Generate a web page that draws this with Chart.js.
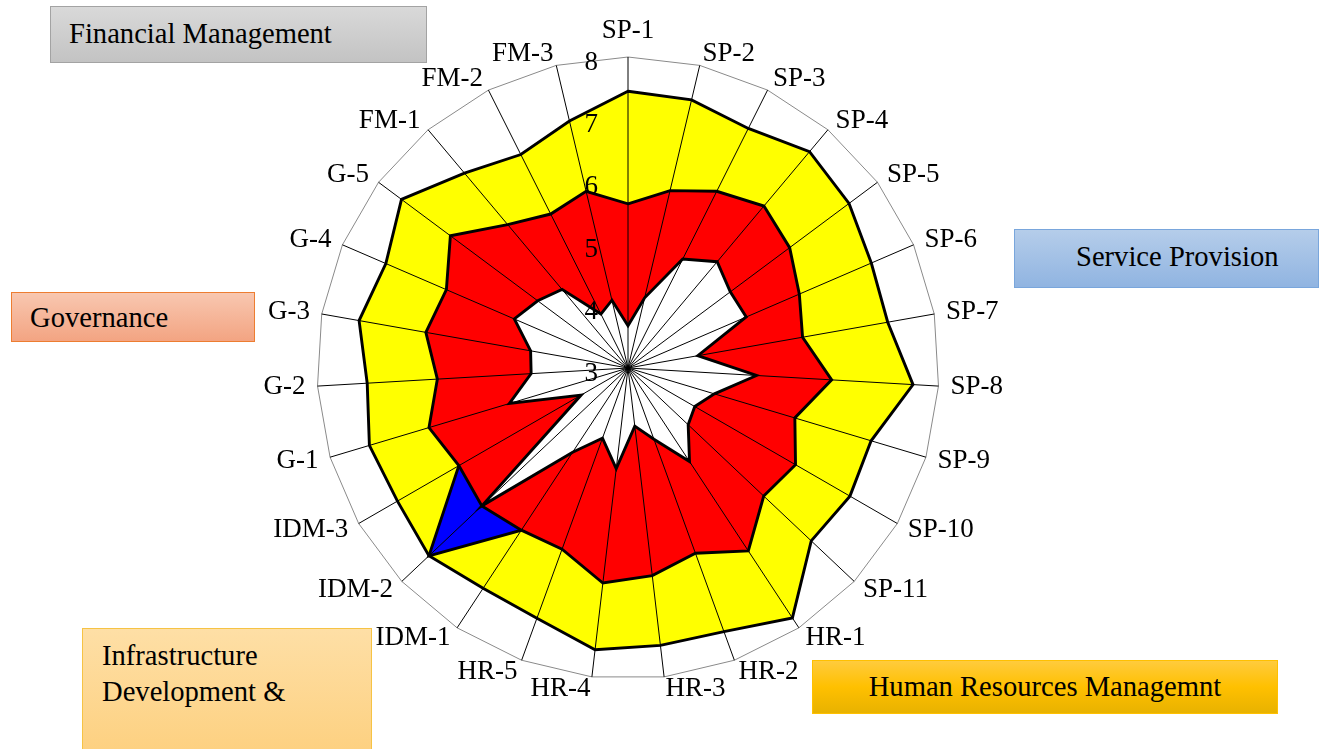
<!DOCTYPE html>
<html>
<head>
<meta charset="utf-8">
<script src="https://cdn.jsdelivr.net/npm/chart.js@4/dist/chart.umd.min.js"></script>
<style>
  html, body { margin: 0; padding: 0; background: #fff; }
  #wrap { position: relative; width: 1319px; height: 749px; overflow: hidden;
          font-family: "Liberation Serif", "Times New Roman", serif; }
  #radar { position: absolute; left: 0; top: 0; }
  .tag { position: absolute; box-sizing: border-box; font-size: 28.6px; color: #000;
         white-space: nowrap; }
  #tag-fm  { left: 50px; top: 6px; width: 377px; height: 57px; line-height: 54px;
             padding-left: 18px; border: 1px solid #a3a3a3;
             background: linear-gradient(#d9d9d9, #c3c3c3); }
  #tag-sp  { left: 1014px; top: 229px; width: 305px; height: 59px; line-height: 54px;
             padding-left: 61px; border: 1px solid #79a6dc;
             background: linear-gradient(#b5cdea, #90b4e1); }
  #tag-g   { left: 11px; top: 292px; width: 244px; height: 50px; line-height: 50px;
             padding-left: 18px; border: 1px solid #ed7d31;
             background: linear-gradient(#f8c7b0, #f3a482); }
  #tag-idm { left: 82px; top: 628px; width: 290px; height: 130px; line-height: 36px;
             padding: 9px 0 0 19px; white-space: normal; border: 1px solid #f6c344;
             background: linear-gradient(#fedfa6, #fdd07f); }
  #tag-hr  { left: 812px; top: 660px; width: 466px; height: 54px; line-height: 52px;
             text-align: center; border: 1px solid #ffc000;
             background: linear-gradient(#ffcb3d, #ffc000 50%, #e8b200); }
</style>
</head>
<body>
<div id="wrap">
  <canvas id="radar" width="1319" height="749"></canvas>
  <div class="tag" id="tag-fm">Financial Management</div>
  <div class="tag" id="tag-sp">Service Provision</div>
  <div class="tag" id="tag-g">Governance</div>
  <div class="tag" id="tag-idm">Infrastructure<br>Development &amp;</div>
  <div class="tag" id="tag-hr">Human Resources Managemnt</div>
</div>
<script>
// Indicators, clockwise from the top
const categories = [
  'SP-1', 'SP-2', 'SP-3', 'SP-4', 'SP-5', 'SP-6', 'SP-7', 'SP-8', 'SP-9', 'SP-10', 'SP-11',
  'HR-1', 'HR-2', 'HR-3', 'HR-4', 'HR-5',
  'IDM-1', 'IDM-2', 'IDM-3',
  'G-1', 'G-2', 'G-3', 'G-4', 'G-5',
  'FM-1', 'FM-2', 'FM-3'
];

// Radial axis labels
const tickLabels = ['3', '4', '5', '6', '7', '8'];

// Outer (yellow) scores
const upperScores = [
  7.45, 7.43, 7.31, 7.54, 7.43, 7.26, 7.24, 7.59, 7.08, 7.12, 7.05,
  7.81, 7.51, 7.49, 7.56, 7.28,
  7.24, 7.40, 7.28,
  7.34, 7.20, 7.39, 7.24, 7.54,
  7.09, 6.84, 7.08
];

// Middle (red) scores
const middleScores = [
  5.64, 5.93, 6.18, 6.40, 6.24, 6.00, 5.85, 6.28, 5.80, 6.11, 6.00,
  6.52, 6.17, 6.36, 6.48, 6.10,
  6.12, 6.23, 6.14,
  6.34, 6.07, 6.30, 6.18, 6.56,
  6.01, 5.77, 5.92
];

// Inner (white) scores
const lowerScores = [
  3.68, 4.16, 4.96, 5.23, 5.05, 5.07, 4.14, 5.07, 4.45, 4.24, 4.33,
  4.80, 4.22, 3.94, 4.63, 4.20,
  4.62, 6.23, 3.87,
  4.99, 4.56, 4.59, 4.99, 4.81,
  4.65, 3.97, 4.12
];

// Highlighted infrastructure indicator (blue)
const idmHighlight = [
  3, 3, 3, 3, 3, 3, 3, 3, 3, 3, 3,
  3, 3, 3, 3, 3,
  6.12, 7.40, 6.14,
  3, 3, 3, 3, 3,
  3, 3, 3
];

const labelFont = '27px "Liberation Serif", "Times New Roman", serif';

function series(data, color, order) {
  return {
    data: data,
    backgroundColor: color,
    borderColor: '#000',
    borderWidth: 2.9,
    borderJoinStyle: 'miter',
    pointRadius: 0,
    pointHoverRadius: 0,
    tension: 0,
    fill: 'origin',
    order: order
  };
}

// Spokes, axis numbers and indicator names are drawn over the filled areas
const overlay = {
  id: 'overlay',
  afterDatasetsDraw(chart) {
    const s = chart.scales.r;
    const ctx = chart.ctx;
    const n = categories.length;
    ctx.save();

    ctx.strokeStyle = '#000';
    ctx.lineWidth = 1;
    for (let i = 0; i < n; i++) {
      const p = s.getPointPositionForValue(i, s.max);
      ctx.beginPath();
      ctx.moveTo(s.xCenter, s.yCenter);
      ctx.lineTo(p.x, p.y);
      ctx.stroke();
    }

    ctx.font = labelFont;
    ctx.fillStyle = '#000';
    ctx.textAlign = 'right';
    ctx.textBaseline = 'middle';
    s.ticks.forEach((t, k) => {
      const p = s.getPointPositionForValue(0, t.value);
      ctx.fillText(tickLabels[k] ?? String(t.value), p.x - 30, p.y + 6);
    });

    for (let i = 0; i < n; i++) {
      const p = s.getPointPosition(i, s.drawingArea + 12);
      const sin = Math.sin(i * 2 * Math.PI / n);
      let y = p.y;
      if (Math.abs(sin) < 1e-6) {
        ctx.textAlign = 'center';
        y -= 14;
      } else {
        ctx.textAlign = sin > 0 ? 'left' : 'right';
      }
      ctx.fillText(categories[i], p.x, y);
    }
    ctx.restore();
  }
};

new Chart(document.getElementById('radar'), {
  type: 'radar',
  data: {
    labels: categories,
    datasets: [
      series(upperScores, '#ffff00', 3),
      series(idmHighlight, '#0000ff', 2),
      series(middleScores, '#ff0000', 1),
      series(lowerScores, '#ffffff', 0)
    ]
  },
  options: {
    responsive: false,
    devicePixelRatio: 1,
    animation: false,
    layout: { padding: { left: 317, top: 57, right: 380, bottom: 70 } },
    plugins: { legend: { display: false }, tooltip: { enabled: false } },
    scales: {
      r: {
        min: Number(tickLabels[0]),
        max: Number(tickLabels[tickLabels.length - 1]),
        ticks: { display: false, stepSize: 1 },
        pointLabels: { display: false },
        angleLines: { display: false },
        grid: {
          lineWidth: 1,
          color: c => (c.tick && c.tick.value === 8) ? '#8a8a8a' : 'rgba(0,0,0,0)'
        }
      }
    }
  },
  plugins: [overlay]
});
</script>
</body>
</html>
